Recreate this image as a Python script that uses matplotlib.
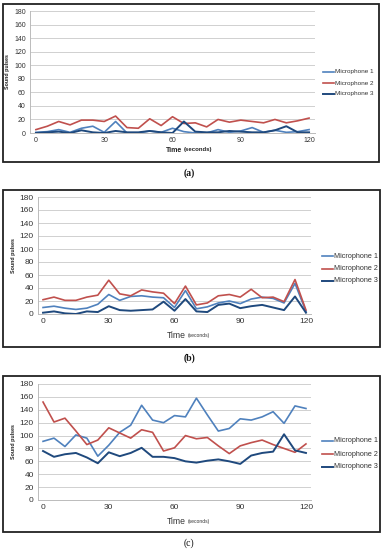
import matplotlib
matplotlib.use("Agg")
import matplotlib.pyplot as plt
from matplotlib.patches import Rectangle

plt.rcParams['font.family'] = ['Liberation Sans', 'DejaVu Sans']

time = list(range(0, 125, 5))
series_names = ["Microphone 1", "Microphone 2", "Microphone 3"]
colors = ["#4F81BD", "#C0504D", "#1F497D"]

a_mic1 = [1, 2, 5, 1, 7, 10, 1, 17, 0, 0, 3, 1, 7, 2, 0, 0, 5, 1, 3, 8, 1, 4, 1, 2, 5]
a_mic2 = [5, 10, 17, 12, 19, 19, 17, 25, 8, 7, 21, 11, 24, 14, 15, 9, 20, 16, 19, 17, 15, 20, 15, 18, 22]
a_mic3 = [0, 1, 2, 0, 4, 1, 0, 3, 1, 1, 3, 1, 0, 17, 2, 1, 1, 3, 2, 1, 1, 4, 10, 1, 1]

b_mic1 = [10, 12, 9, 7, 9, 15, 30, 21, 27, 28, 26, 25, 10, 36, 8, 11, 17, 20, 16, 23, 26, 24, 17, 47, 4]
b_mic2 = [22, 26, 21, 21, 26, 29, 52, 31, 28, 37, 34, 32, 16, 43, 14, 17, 28, 30, 26, 38, 25, 26, 19, 53, 6]
b_mic3 = [2, 4, 1, 0, 4, 3, 12, 6, 5, 6, 7, 19, 5, 23, 4, 3, 14, 16, 9, 12, 14, 10, 6, 27, 2]

c_mic1 = [91, 96, 83, 101, 96, 68, 85, 105, 116, 147, 124, 120, 131, 129, 158, 132, 107, 111, 126, 124, 129, 137, 119, 146, 142]
c_mic2 = [152, 121, 127, 107, 86, 93, 112, 104, 96, 109, 105, 76, 81, 100, 95, 97, 84, 72, 84, 89, 93, 86, 80, 74, 87]
c_mic3 = [76, 67, 71, 73, 66, 57, 74, 68, 73, 81, 67, 67, 65, 60, 58, 61, 63, 60, 56, 69, 73, 75, 102, 77, 73]

y_ticks = list(range(0, 200, 20))
x_ticks = [0, 30, 60, 90, 120]
captions = ["(a)", "(b)", "(c)"]

W, H = 383, 550
fig = plt.figure(figsize=(W / 100, H / 100), dpi=100)


def rect(l, t, r, b):
    return [l / W, 1 - b / H, (r - l) / W, (b - t) / H]


panels = [
    dict(data=[a_mic1, a_mic2, a_mic3], box=(3, 4, 379, 162), ax=(30, 11, 315, 133),
         xlim=(-2.6, 122.6), fs=5, lfs=4.6, leg=(323, 72, 11), ylab_x=8, xl_y=150, cap_y=173,
         bold=True, capbold=True),
    dict(data=[b_mic1, b_mic2, b_mic3], box=(3, 190, 380, 347), ax=(38, 197, 311, 314),
         xlim=(-2.3, 122.3), fs=6, lfs=5.2, leg=(322, 256, 12.5), ylab_x=13, xl_y=335, cap_y=358,
         bold=False, capbold=True),
    dict(data=[c_mic1, c_mic2, c_mic3], box=(3, 376, 380, 532), ax=(38, 384, 311, 500),
         xlim=(-2.3, 122.3), fs=6, lfs=5.2, leg=(322, 441, 13), ylab_x=13, xl_y=521, cap_y=543,
         bold=False, capbold=False),
]

for i, p in enumerate(panels):
    l, t, r, b = p["box"]
    fig.patches.append(Rectangle((l / W, 1 - b / H), (r - l) / W, (b - t) / H,
                                 transform=fig.transFigure, fill=False,
                                 edgecolor="#222222", linewidth=1.3))
    ax = fig.add_axes(rect(*p["ax"]))
    for k, (vals, c) in enumerate(zip(p["data"], colors)):
        ax.plot(time, vals, color=c, linewidth=1.2 if k < 2 else 1.4,
                label=series_names[k])
    ax.set_xlim(*p["xlim"])
    ax.set_ylim(0, 180)
    ax.set_yticks(y_ticks)
    ax.set_xticks(x_ticks)
    ax.grid(axis="y", color="#D0D0D0", linewidth=0.7)
    ax.set_axisbelow(True)
    for s in ["top", "right"]:
        ax.spines[s].set_visible(False)
    ax.spines["left"].set_color("#BBBBBB")
    ax.spines["bottom"].set_color("#BBBBBB")
    ax.spines["left"].set_linewidth(0.7)
    ax.spines["bottom"].set_linewidth(0.7)
    ax.tick_params(length=0, labelsize=p["fs"], colors="#333333", pad=3)
    ax.set_facecolor("none")

    ax_l, ax_t, ax_r, ax_b = p["ax"]
    fig.text(p["ylab_x"] / W, 1 - ((ax_t + ax_b) / 2) / H, "Sound pulses",
             rotation=90, ha="center", va="center", fontsize=3.8, fontweight="bold",
             color="#222222")
    if p["bold"]:
        fig.text(166 / W, 1 - p["xl_y"] / H, "Time", ha="left", va="center",
                 fontsize=5, fontweight="bold", color="#222222")
        fig.text(184 / W, 1 - p["xl_y"] / H, "(seconds)", ha="left", va="center",
                 fontsize=4.3, fontweight="bold", color="#222222")
    else:
        fig.text(167 / W, 1 - p["xl_y"] / H, "Time", ha="left", va="center",
                 fontsize=6.2, color="#333333")
        fig.text(188 / W, 1 - p["xl_y"] / H, "(seconds)", ha="left", va="center",
                 fontsize=3.6, color="#333333")

    lx, ly, dy = p["leg"]
    for k, (name, c) in enumerate(zip(series_names, colors)):
        yy = 1 - (ly + k * dy) / H
        fig.add_artist(plt.Line2D([lx / W, (lx + 11) / W], [yy, yy], color=c,
                                  linewidth=1.2 if k < 2 else 1.4,
                                  transform=fig.transFigure))
        fig.text((lx + 12) / W, yy, name, ha="left", va="center",
                 fontsize=p["lfs"], color="#333333")

    fig.text(189 / W, 1 - p["cap_y"] / H, captions[i], ha="center", va="center",
             fontsize=7, family="Liberation Serif",
             fontweight="bold" if p["capbold"] else "normal", color="#111111")

fig.savefig("out.png", dpi=100, facecolor="white")
